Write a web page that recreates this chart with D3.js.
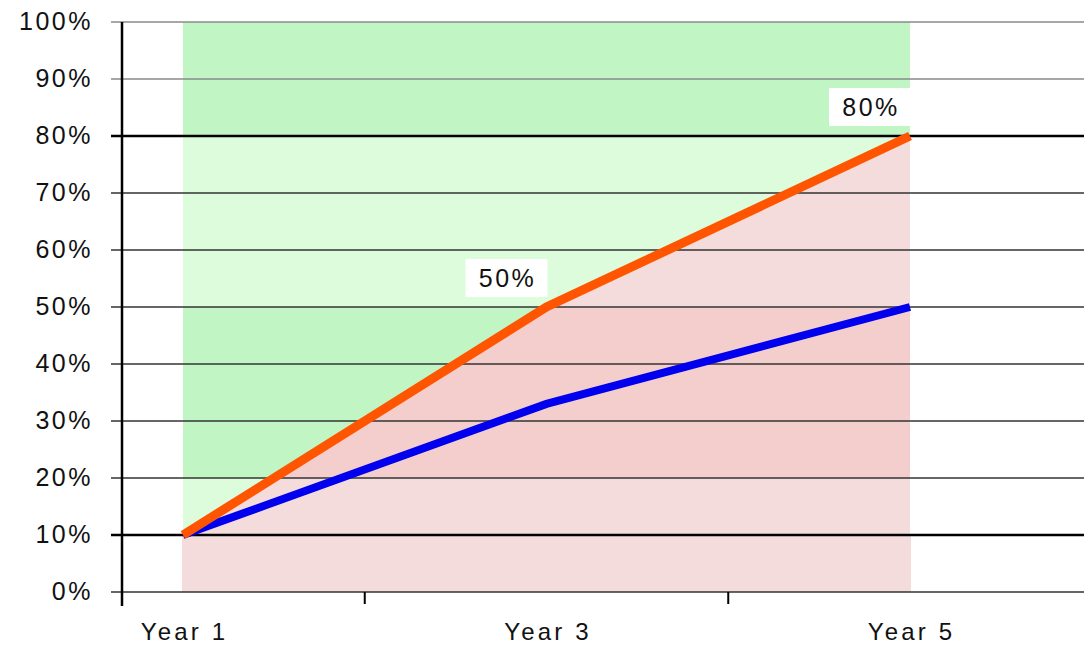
<!DOCTYPE html>
<html>
<head>
<meta charset="utf-8">
<script src="https://cdn.jsdelivr.net/npm/d3@7"></script>
<style>
  html, body { margin: 0; padding: 0; background: #fff; }
  svg { display: block; }
  text { font-family: "Liberation Sans", Arial, sans-serif; fill: #111; }
</style>
</head>
<body>
<svg id="chart" width="1084" height="648"></svg>
<script>
// Category labels and data
const years = [1, 3, 5];
const yearLabels = ["Year 1", "Year 3", "Year 5"];
const targetValues = [10, 50, 80];   // orange line
const actualValues = [10, 33, 50];   // blue line
const yTicks = [0, 10, 20, 30, 40, 50, 60, 70, 80, 90, 100];
const xTickMarks = [2, 4];
const labelledPoints = [1, 2];      // indices of target points with value labels

// Horizontal bands behind the chart
const bandFrom = [0, 10, 20, 50, 80];
const bandTo = [10, 20, 50, 80, 100];
const bandGreen = ["#dcfcdc", "#dcfcdc", "#c2f5c4", "#dcfcdc", "#c2f5c4"];
const bandPink = ["#f5dcdc", "#f5dcdc", "#f4cecd", "#f5dcdc", "#f4cecd"];

const svg = d3.select("#chart");
const x = d3.scaleLinear().domain([1, 5]).range([183, 910]);
const y = d3.scaleLinear().domain([0, 100]).range([592, 22]);
const plotLeft = 122, plotRight = 1084;

const bands = bandFrom.map((f, i) => ({ from: f, to: bandTo[i], green: bandGreen[i], pink: bandPink[i] }));

// Green bands between the first and last year
svg.append("g").selectAll("rect").data(bands.filter(b => b.from >= 10)).join("rect")
  .attr("x", x(1)).attr("width", x(5) - x(1))
  .attr("y", d => y(d.to)).attr("height", d => y(d.from) - y(d.to))
  .attr("fill", d => d.green);

// Area under the target line, shaded pink
const targetPts = years.map((yr, i) => ({ yr, v: targetValues[i] }));
const area = d3.area().x(d => x(d.yr)).y0(y(0)).y1(d => y(d.v));
svg.append("clipPath").attr("id", "underTarget")
  .append("path").attr("d", area(targetPts));
svg.append("g").attr("clip-path", "url(#underTarget)")
  .selectAll("rect").data(bands).join("rect")
  .attr("x", x(1)).attr("width", x(5) - x(1))
  .attr("y", d => y(d.to)).attr("height", d => y(d.from) - y(d.to))
  .attr("fill", d => d.pink);
// lowest band is pink all the way across
svg.append("rect").attr("x", x(1) - 1).attr("width", x(5) - x(1) + 2)
  .attr("y", y(10)).attr("height", y(0) - y(10)).attr("fill", bandPink[0]);

// Horizontal gridlines with tick stubs
svg.append("g").selectAll("line").data(yTicks).join("line")
  .attr("x1", plotLeft - 11).attr("x2", plotRight)
  .attr("y1", d => y(d)).attr("y2", d => y(d))
  .attr("stroke", d => (d === 10 || d === 80) ? "#000" : (d >= 90 ? "#8a8a8a" : "#333"))
  .attr("stroke-width", d => (d === 10 || d === 80) ? 2.5 : 1.3);

// Y axis line
svg.append("line").attr("x1", plotLeft).attr("x2", plotLeft)
  .attr("y1", y(100)).attr("y2", 606).attr("stroke", "#000").attr("stroke-width", 2.5);

// X tick marks
svg.append("g").selectAll("line").data(xTickMarks).join("line")
  .attr("x1", d => x(d)).attr("x2", d => x(d))
  .attr("y1", y(0)).attr("y2", 604).attr("stroke", "#000").attr("stroke-width", 2);

// Y tick labels
svg.append("g").selectAll("text").data(yTicks).join("text")
  .attr("x", 93).attr("y", d => y(d)).attr("dy", "0.32em")
  .attr("text-anchor", "end").attr("font-size", 25).style("letter-spacing", "2.5px")
  .text(d => d + "%");

// X category labels
svg.append("g").selectAll("text").data(years).join("text")
  .attr("x", d => x(d) + 1.5).attr("y", 640)
  .attr("text-anchor", "middle").attr("font-size", 24).style("letter-spacing", "3.2px")
  .text((d, i) => yearLabels[i]);

// Lines
const line = d3.line().x(d => x(d.yr)).y(d => y(d.v));
const actualPts = years.map((yr, i) => ({ yr, v: actualValues[i] }));
svg.append("path").datum(actualPts).attr("d", line)
  .attr("fill", "none").attr("stroke", "#0000ee").attr("stroke-width", 8);
svg.append("path").datum(targetPts).attr("d", line)
  .attr("fill", "none").attr("stroke", "#ff5500").attr("stroke-width", 9);

// Value labels on the target line
const lbl = svg.append("g").selectAll("g").data(labelledPoints.map(i => targetPts[i])).join("g")
  .attr("transform", d => `translate(${x(d.yr) - 40},${y(d.v) - 29})`);
lbl.append("rect").attr("x", -41).attr("y", -19).attr("width", 82).attr("height", 38).attr("fill", "#fff");
lbl.append("text").attr("x", 1).attr("text-anchor", "middle").attr("dy", "0.34em")
  .attr("font-size", 25).style("letter-spacing", "2.5px").text(d => d.v + "%");
</script>
</body>
</html>
